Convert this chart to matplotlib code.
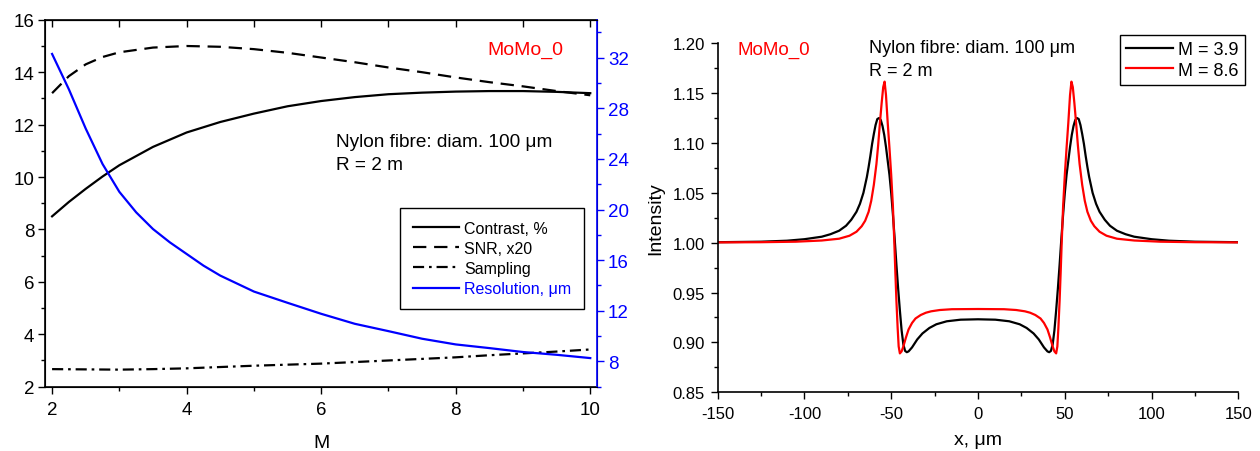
import numpy as np
import matplotlib.pyplot as plt
from matplotlib.ticker import MultipleLocator, FormatStrFormatter

plt.rcParams['font.family'] = ['Liberation Sans', 'DejaVu Sans']
plt.rcParams['font.size'] = 12.5
plt.rcParams['axes.unicode_minus'] = False

# ---- left panel data ----
M = [2, 2.25, 2.5, 2.75, 3, 3.5, 4, 4.5, 5, 5.5, 6, 6.5, 7, 7.5, 8, 8.5, 9, 9.5, 10]
contrast = [8.5, 9.05, 9.55, 10.02, 10.45, 11.15, 11.7, 12.1, 12.42, 12.7, 12.9,
            13.05, 13.16, 13.22, 13.26, 13.28, 13.28, 13.25, 13.2]
snr = [13.2, 13.85, 14.3, 14.58, 14.76, 14.94, 15.0, 14.97, 14.88, 14.74, 14.56,
       14.38, 14.18, 14.0, 13.8, 13.62, 13.46, 13.28, 13.12]
sampling = [2.67, 2.665, 2.66, 2.655, 2.65, 2.67, 2.7, 2.75, 2.8, 2.84, 2.88,
            2.94, 3.0, 3.06, 3.12, 3.2, 3.27, 3.34, 3.42]
M_res = [2, 2.25, 2.5, 2.75, 3, 3.25, 3.5, 3.75, 4, 4.25, 4.5, 5, 5.5, 6, 6.5, 7,
         7.5, 8, 8.5, 9, 9.5, 10]
resolution = [32.3, 29.5, 26.4, 23.6, 21.4, 19.78, 18.46, 17.41, 16.49, 15.57, 14.78,
              13.52, 12.63, 11.76, 10.97, 10.39, 9.79, 9.34, 9.05, 8.74, 8.52, 8.26]

# ---- right panel data: intensity profiles ----
x_m39 = [-150, -125, -110, -100, -90, -85, -80, -76, -73, -70, -68, -66, -64, -63, -62,
         -61, -60, -59, -58, -57, -56, -55, -54, -53, -52, -51, -50, -49, -48, -47,
         -46, -45, -44, -43, -42, -41, -40, -38, -35, -32, -28, -24, -18, -10, 0,
         10, 18, 24, 28, 32, 35, 38, 40, 41, 42, 43, 44, 45, 46, 47, 48, 49, 50,
         51, 52, 53, 54, 55, 56, 57, 58, 59, 60, 61, 62, 63, 64, 66, 68, 70, 73,
         76, 80, 85, 90, 100, 110, 125, 150]
i_m39 = [1.0005, 1.001, 1.002, 1.0035, 1.006, 1.0085, 1.012, 1.017, 1.023, 1.031,
         1.039, 1.05, 1.066, 1.076, 1.087, 1.099, 1.109, 1.118, 1.124, 1.125, 1.123,
         1.117, 1.108, 1.096, 1.082, 1.068, 1.05, 1.028, 1.004, 0.978, 0.954, 0.932,
         0.912, 0.898, 0.8915, 0.8902, 0.891, 0.895, 0.903, 0.909, 0.9145, 0.9182,
         0.9212, 0.9228, 0.9232,
         0.9228, 0.9212, 0.9182, 0.9145, 0.909, 0.903, 0.895, 0.891, 0.8902, 0.8915,
         0.898, 0.912, 0.932, 0.954, 0.978, 1.004, 1.028, 1.05, 1.068, 1.082, 1.096,
         1.108, 1.117, 1.123, 1.125, 1.124, 1.118, 1.109, 1.099, 1.087, 1.076, 1.066,
         1.05, 1.039, 1.031, 1.023, 1.017, 1.012, 1.0085, 1.006, 1.0035, 1.002,
         1.001, 1.0005]

x_m86 = [-150, -125, -105, -90, -80, -74, -70, -67, -65, -63, -61.5, -60, -58.5,
         -57.5, -56.5, -55.5, -54.6, -53.8, -53, -52, -51, -50, -49, -48.2, -47.6,
         -47, -46.3, -45.7, -45, -44, -43, -41.5, -40, -38, -36, -33, -30, -27, -22,
         -15, 0, 15, 22, 27, 30, 33, 36, 38, 40, 41.5, 43, 44, 45, 45.7, 46.3, 47,
         47.6, 48.2, 49, 50, 51, 52, 53, 53.8, 54.6, 55.5, 56.5, 57.5, 58.5, 60,
         61.5, 63, 65, 67, 70, 74, 80, 90, 105, 125, 150]
i_m86 = [1.0003, 1.0005, 1.001, 1.0022, 1.004, 1.007, 1.011, 1.0165, 1.022, 1.031,
         1.042, 1.058, 1.079, 1.098, 1.12, 1.14, 1.156, 1.1615, 1.148, 1.12, 1.095,
         1.068, 1.036, 1.0, 0.97, 0.942, 0.915, 0.896, 0.889, 0.891, 0.896, 0.905,
         0.913, 0.9195, 0.924, 0.9275, 0.9298, 0.9312, 0.9325, 0.9333, 0.9335,
         0.9333, 0.9325, 0.9312, 0.9298, 0.9275, 0.924, 0.9195, 0.913, 0.905, 0.896,
         0.891, 0.889, 0.896, 0.915, 0.942, 0.97, 1.0, 1.036, 1.068, 1.095, 1.12,
         1.148, 1.1615, 1.156, 1.14, 1.12, 1.098, 1.079, 1.058, 1.042, 1.031, 1.022,
         1.0165, 1.011, 1.007, 1.004, 1.0022, 1.001, 1.0005, 1.0003]

blue = '#0000ff'
red = '#ff0000'

fig = plt.figure(figsize=(12.6, 4.52), dpi=100)

# ================= left panel =================
ax1 = fig.add_axes([0.036, 0.1423, 0.4378, 0.8117])
ax2 = ax1.twinx()

l1, = ax1.plot(M, contrast, color='black', lw=1.6, label='Contrast, %')
l2, = ax1.plot(M, snr, color='black', lw=1.6, dashes=(6, 3.5), label='SNR, x20')
l3, = ax1.plot(M, sampling, color='black', lw=1.6, dashes=(5, 2.2, 1.2, 2.2), label='Sampling')
l4, = ax2.plot(M_res, resolution, color=blue, lw=1.6, label='Resolution, \u03bcm')

ax1.set_xlim(1.9, 10.1)
ax1.set_ylim(2, 16)
ax2.set_ylim(6, 35)
ax1.xaxis.set_major_locator(MultipleLocator(2))
ax1.xaxis.set_minor_locator(MultipleLocator(1))
ax1.yaxis.set_major_locator(MultipleLocator(2))
ax1.yaxis.set_minor_locator(MultipleLocator(1))
ax2.yaxis.set_major_locator(MultipleLocator(4))
ax2.yaxis.set_minor_locator(MultipleLocator(2))
ax2.set_yticks([8, 12, 16, 20, 24, 28, 32])

ax1.tick_params(axis='x', which='major', direction='out', length=5, width=1, pad=5,
                labelsize=13.5)
ax1.tick_params(axis='x', which='minor', direction='out', length=3, width=1)
ax1.tick_params(axis='y', which='major', direction='out', length=5, width=1, pad=3,
                labelsize=13.5)
ax1.tick_params(axis='y', which='minor', direction='out', length=3, width=1)
ax2.tick_params(axis='y', which='major', direction='out', length=5, width=1, pad=3,
                colors=blue, labelcolor=blue, labelsize=13.5)
ax2.tick_params(axis='y', which='minor', direction='out', length=3, width=1, colors=blue)
ax2.spines['right'].set_color(blue)
ax2.spines['right'].set_linewidth(1.2)
for s in ['left', 'bottom', 'top']:
    ax1.spines[s].set_linewidth(1.2)

# inward ticks along the top edge
top = ax1.secondary_xaxis('top')
top.xaxis.set_major_locator(MultipleLocator(1))
top.tick_params(axis='x', direction='in', length=5, width=1, labeltop=False)

ax1.set_xlabel('M', fontsize=14, labelpad=12)

ax1.text(0.871, 0.92, 'MoMo_0', color=red, fontsize=14, ha='center', va='center',
         transform=ax1.transAxes)
ax1.text(0.527, 0.657, 'Nylon fibre: diam. 100 \u03bcm', fontsize=13.7, va='baseline',
         transform=ax1.transAxes)
ax1.text(0.527, 0.593, 'R = 2 m', fontsize=13.7, va='baseline', transform=ax1.transAxes)

leg1 = ax2.legend(handles=[l1, l2, l3, l4], loc='upper left', bbox_to_anchor=(0.643, 0.487),
                  fontsize=11.5, frameon=True, fancybox=False, edgecolor='black',
                  framealpha=1, handlelength=2.9, handletextpad=0.3, borderpad=0.8,
                  labelspacing=0.32, borderaxespad=0)
leg1.get_frame().set_linewidth(1.0)
leg1.get_texts()[3].set_color(blue)

# ================= right panel =================
ax3 = fig.add_axes([0.5695, 0.1299, 0.4134, 0.7722])
ax3.plot(x_m39, i_m39, color='black', lw=1.6, label='M = 3.9')
ax3.plot(x_m86, i_m86, color=red, lw=1.6, label='M = 8.6')

ax3.set_xlim(-150, 150)
ax3.set_ylim(0.85, 1.20)
ax3.xaxis.set_major_locator(MultipleLocator(50))
ax3.xaxis.set_minor_locator(MultipleLocator(25))
ax3.yaxis.set_major_locator(MultipleLocator(0.05))
ax3.yaxis.set_minor_locator(MultipleLocator(0.025))
ax3.yaxis.set_major_formatter(FormatStrFormatter('%.2f'))
ax3.tick_params(which='major', direction='out', length=5, width=1, labelsize=12)
ax3.tick_params(which='minor', direction='out', length=3, width=1)
ax3.tick_params(axis='x', pad=5)
ax3.tick_params(axis='y', pad=4)
ax3.spines['top'].set_visible(False)
ax3.spines['right'].set_visible(False)
ax3.spines['left'].set_linewidth(1.2)
ax3.spines['bottom'].set_linewidth(1.2)

ax3.set_xlabel('x, \u03bcm', fontsize=14, labelpad=7)
ax3.set_ylabel('Intensity', fontsize=14, labelpad=6)

ax3.text(0.039, 0.969, 'MoMo_0', color=red, fontsize=13.5, va='baseline',
         transform=ax3.transAxes)
ax3.text(0.290, 0.974, 'Nylon fibre: diam. 100 \u03bcm', fontsize=13, va='baseline',
         transform=ax3.transAxes)
ax3.text(0.290, 0.909, 'R = 2 m', fontsize=13, va='baseline', transform=ax3.transAxes)

leg2 = ax3.legend(loc='upper right', bbox_to_anchor=(1.013, 1.024), fontsize=13,
                  frameon=True, fancybox=False, edgecolor='black', framealpha=1,
                  handlelength=2.6, handletextpad=0.3, borderpad=0.35,
                  labelspacing=0.2, borderaxespad=0)
leg2.get_frame().set_linewidth(1.0)

fig.savefig('out.png', dpi=100)
